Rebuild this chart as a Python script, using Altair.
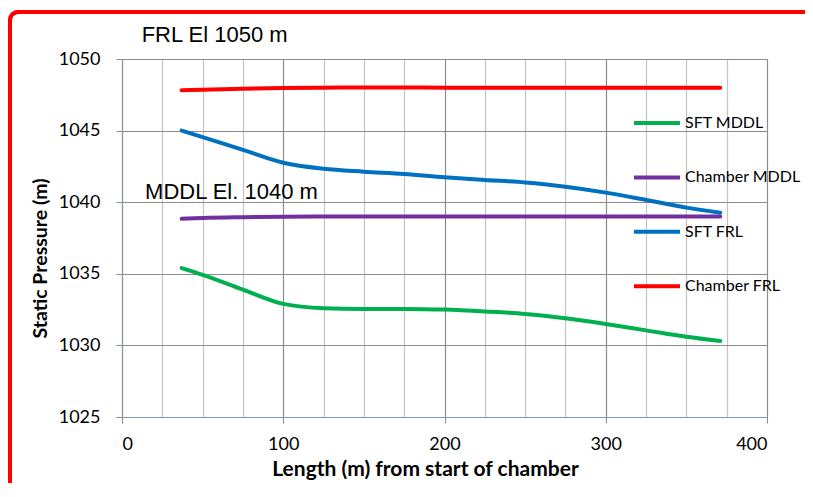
import altair as alt
import pandas as pd

# ---- data ----
length = [37, 50, 75, 100, 125, 150, 175, 200, 225, 250, 275, 300, 325, 350, 371]
sft_mddl = [1035.4, 1034.93, 1033.9, 1032.9, 1032.6, 1032.55, 1032.55, 1032.5,
            1032.37, 1032.2, 1031.9, 1031.5, 1031.05, 1030.6, 1030.3]
chamber_mddl = [1038.85, 1038.9, 1038.95, 1038.98, 1039.0, 1039.0, 1039.0, 1039.0,
                1039.0, 1039.0, 1039.0, 1039.0, 1039.0, 1039.0, 1039.0]
sft_frl = [1045.0, 1044.55, 1043.65, 1042.75, 1042.33, 1042.13, 1041.97, 1041.74,
           1041.55, 1041.38, 1041.08, 1040.67, 1040.16, 1039.62, 1039.27]
chamber_frl = [1047.82, 1047.86, 1047.93, 1047.97, 1048.0, 1048.01, 1048.01, 1048.0,
               1048.0, 1048.0, 1048.0, 1048.0, 1048.0, 1048.0, 1048.0]

series_names = ["SFT MDDL", "Chamber MDDL", "SFT FRL", "Chamber FRL"]
series_colors = ["#00B050", "#7030A0", "#0070C0", "#FF0000"]

x_ticks = list(range(0, 401, 25))
y_ticks = list(range(1025, 1051, 5))

annot_text = ["FRL El 1050 m", "MDDL El. 1040 m"]
annot_x = [12.2, 14.3]
annot_y = [1051.2, 1040.2]

# ---- build table ----
rows = []
for name, vals in zip(series_names, [sft_mddl, chamber_mddl, sft_frl, chamber_frl]):
    for xv, yv in zip(length, vals):
        rows.append({"length": xv, "pressure": yv, "series": name})
df = pd.DataFrame(rows)
ann = pd.DataFrame({"text": annot_text, "x": annot_x, "y": annot_y})

W, H = 645, 358
FONT = "Lato"

xscale = alt.Scale(domain=[0, 400], nice=False, zero=False)
yscale = alt.Scale(domain=[1025, 1050], nice=False, zero=False)

x_axis = alt.Axis(
    values=x_ticks,
    labelExpr="datum.value % 100 === 0 ? datum.label : ''",
    title="Length (m) from start of chamber",
    titleFont=FONT, titleFontSize=21, titleFontWeight="bold", titleColor="black",
    titleX=303, titlePadding=5,
    labelFont=FONT, labelFontSize=18, labelColor="black", labelPadding=12,
    tickSize=6, tickColor="#8C8C8C",
    tickOpacity={"condition": {"test": "datum.value % 100 !== 0", "value": 0}, "value": 1},
    gridColor={"condition": {"test": "datum.value % 100 === 0", "value": "#8C8C8C"}, "value": "#C4C4C4"},
    gridWidth=1.2,
    domainColor="#8497B0", domainWidth=1.2,
)
y_axis = alt.Axis(
    values=y_ticks,
    format="d",
    title="Static Pressure (m)",
    titleFont=FONT, titleFontSize=19.5, titleFontWeight="bold", titleColor="black",
    titleY=199, titlePadding=8,
    labelFont=FONT, labelFontSize=18, labelColor="black", labelPadding=16,
    tickSize=6, tickColor="#8C8C8C",
    gridColor="#8C8C8C", gridWidth=1.2,
    domainColor="#8C9BAA", domainWidth=1.2,
)

lines = alt.Chart(df).mark_line(
    strokeWidth=4, interpolate="monotone", strokeCap="round"
).encode(
    x=alt.X("length:Q", scale=xscale, axis=x_axis),
    y=alt.Y("pressure:Q", scale=yscale, axis=y_axis),
    color=alt.Color(
        "series:N",
        scale=alt.Scale(domain=series_names, range=series_colors),
        sort=series_names,
        legend=alt.Legend(
            orient="none", legendX=510, legendY=39, title=None,
            symbolType="stroke", symbolSize=2116, symbolStrokeWidth=4,
            labelFont=FONT, labelFontSize=16, labelColor="black",
            rowPadding=21.4, labelOffset=3, padding=0,
        ),
    ),
    order=alt.Order("length:Q"),
)

annots = alt.Chart(ann).mark_text(
    align="left", baseline="alphabetic", font="Liberation Sans", fontSize=22, color="black"
).encode(
    x=alt.X("x:Q", scale=xscale),
    y=alt.Y("y:Q", scale=yscale),
    text="text:N",
)

frame = alt.Chart(ann).mark_rect(
    fillOpacity=0, stroke="#FF0000", strokeWidth=4, cornerRadius=8
).encode(
    x=alt.value(-112), x2=alt.value(1000),
    y=alt.value(-47), y2=alt.value(700),
)

chart = alt.layer(frame, lines, annots).properties(
    width=W, height=H,
    autosize=alt.AutoSizeParams(type="none"),
    padding={"left": 114, "top": 51, "right": 38, "bottom": 66},
).configure_view(
    stroke="#6F819E", strokeWidth=1.2
).configure(background="white")

chart.save("out.html", embed_options={"renderer": "svg", "actions": False})
